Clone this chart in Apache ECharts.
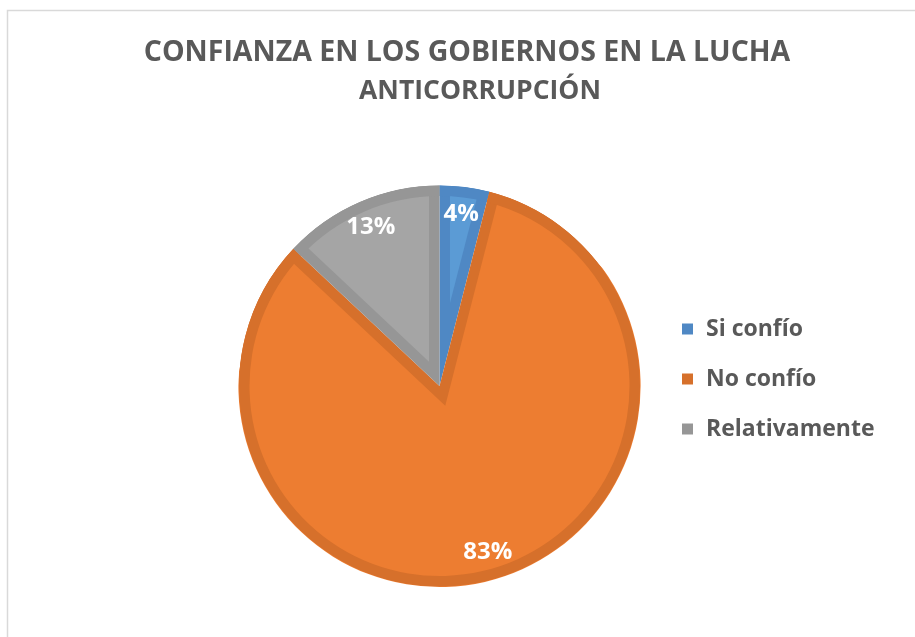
<!DOCTYPE html>
<html>
<head>
<meta charset="utf-8">
<script src="https://cdn.jsdelivr.net/npm/echarts@6/dist/echarts.min.js"></script>
<style>
  html, body { margin: 0; padding: 0; background: #fff; }
  #main { width: 915px; height: 637px; }
</style>
</head>
<body>
<div id="main"></div>
<script>
// 数据
var categories = ['Si confío', 'No confío', 'Relativamente'];
var values = [4, 83, 13];
var titleLines = ['CONFIANZA EN LOS GOBIERNOS EN LA LUCHA', 'ANTICORRUPCIÓN'];
var fillColors = ['#5B9BD5', '#ED7D31', '#A5A5A5'];
var edgeColors = ['#4F88C4', '#D6702B', '#969696'];

// 饼图几何
var CX = 439.5, CY = 386;
var R = 200.5;      // 外半径
var W = 10.5;       // 内描边宽度
var RHO = R - W;

var chart = echarts.init(document.getElementById('main'));

var total = 0;
for (var i = 0; i < values.length; i++) {
	total += values[i];
}

function pieData(colorOf, selIdx) {
	var arr = [];
	for (var i = 0; i < categories.length; i++) {
		arr.push({
			name: categories[i],
			value: values[i],
			selected: selIdx === i,
			itemStyle: { color: colorOf(i) }
		});
	}
	return arr;
}

function basePie(extra) {
	var s = {
		type: 'pie',
		center: [CX, CY],
		startAngle: 90,
		clockwise: true,
		silent: true,
		animation: false,
		label: { show: false },
		labelLine: { show: false },
		emphasis: { disabled: true }
	};
	for (var k in extra) s[k] = extra[k];
	return s;
}

var series = [];

// 底层：深色整饼
series.push(basePie({
	radius: R,
	data: pieData(function (i) { return edgeColors[i]; })
}));

// 每个扇区的浅色内部（沿角平分线平移，模拟内描边）
for (var k = 0; k < categories.length; k++) {
	var beta = Math.PI * values[k] / total;
	var d = W / Math.sin(beta);
	var r = Math.sqrt(RHO * RHO + d * d - 2 * RHO * d * Math.cos(beta)) + 1;
	series.push(basePie({
		radius: r,
		selectedMode: 'single',
		selectedOffset: d,
		data: pieData((function (kk) {
			return function (i) { return i === kk ? fillColors[i] : 'transparent'; };
		})(k), k)
	}));
}

// 外圈深色环
series.push(basePie({
	radius: [RHO, R],
	data: pieData(function (i) { return edgeColors[i]; })
}));

// 白色遮罩，盖住溢出部分
series.push(basePie({
	radius: [R + 0.6, R + 40],
	data: pieData(function () { return '#ffffff'; })
}));

// 标签
series.push(basePie({
	radius: [139.5, R],
	data: pieData(function () { return 'transparent'; }),
	label: {
		show: true,
		position: 'inside',
		formatter: function (p) { return Math.round(p.percent) + '%'; },
		color: '#ffffff',
		fontFamily: 'Open Sans',
		fontWeight: 'bold',
		fontSize: 24
	}
}));

function titleStyle(size) {
	return {
		fontFamily: 'Open Sans',
		fontWeight: 'bold',
		fontSize: size,
		color: '#595959'
	};
}

var option = {
	backgroundColor: '#ffffff',
	title: [{
		text: titleLines[0],
		left: 467,
		top: 38,
		padding: 0,
		textAlign: 'center',
		textStyle: titleStyle(28.5)
	}, {
		text: titleLines[1],
		left: 480,
		top: 78,
		padding: 0,
		textAlign: 'center',
		textStyle: titleStyle(26.5)
	}],
	legend: {
		orient: 'vertical',
		left: 682,
		top: 317,
		padding: 0,
		icon: 'rect',
		itemWidth: 11,
		itemHeight: 11,
		itemGap: 26,
		selectedMode: false,
		data: categories,
		textStyle: {
			fontFamily: 'Open Sans',
			fontWeight: 'bold',
			fontSize: 23,
			lineHeight: 24,
			color: '#595959',
			padding: [0, 0, 0, 8]
		}
	},
	graphic: [{
		type: 'rect',
		z: 100,
		silent: true,
		shape: { x: 7.5, y: 10.5, width: 1000, height: 1000 },
		style: { fill: 'none', stroke: '#d9d9d9', lineWidth: 1.5 }
	}],
	series: series
};

chart.setOption(option);
</script>
</body>
</html>
